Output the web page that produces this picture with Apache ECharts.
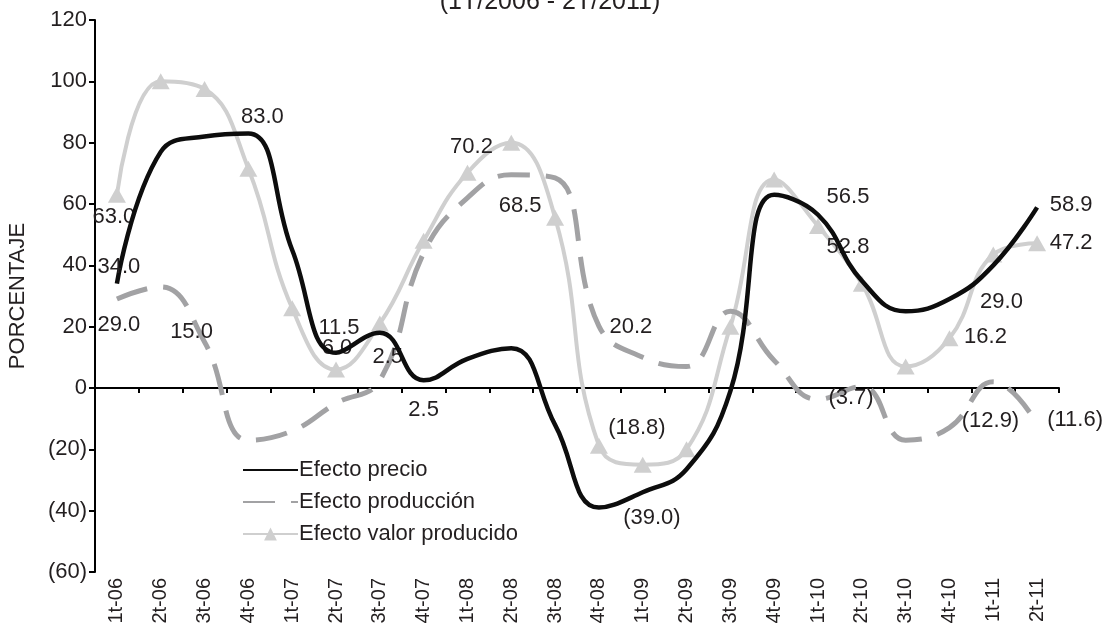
<!DOCTYPE html>
<html>
<head>
<meta charset="utf-8">
<script src="https://cdn.jsdelivr.net/npm/echarts@6/dist/echarts.min.js"></script>
<style>
html,body{margin:0;padding:0;background:#fff;}
#chart{width:1115px;height:630px;}
</style>
</head>
<body>
<div id="chart"></div>
<script>
// ---- data ----
const categories = ['1t-06','2t-06','3t-06','4t-06','1t-07','2t-07','3t-07','4t-07','1t-08','2t-08','3t-08','4t-08','1t-09','2t-09','3t-09','4t-09','1t-10','2t-10','3t-10','4t-10','1t-11','2t-11'];
const precio     = [34.0, 77, 82, 83.0, 45, 11.5, 18, 2.5, 9.5, 13, -12, -39.0, -34, -26.5, -1, 63, 56.5, 35, 25, 29.0, 40, 58.9];
const produccion = [29.0, 33, 15.0, -17, -14, -5, 2.5, 44, 62, 69.5, 68.5, 20.2, 10, 7, 25, 9, -3.7, 0.5, -17, -12.9, 2, -11.6];
const valor      = [63.0, 100, 97.5, 71.5, 26, 6.0, 21, 48, 70.2, 80, 55.5, -18.8, -25, -20, 20, 68, 52.8, 34, 7, 16.2, 43.5, 47.2];
const seriesNames = ['Efecto precio', 'Efecto producción', 'Efecto valor producido'];
const yTicks = {min: -60, max: 120, step: 20};
const titleText = '(1T/2006 - 2T/2011)';
const yName = 'PORCENTAJE';

// label placement (pixel offsets from the point), index -> [dx, dy]
const precioLabelPos = {0:[2,-17], 3:[14,-17], 5:[3,-25], 7:[0,30], 11:[53,10], 16:[30,-18], 19:[52,3], 21:[34,-2]};
const produccionLabelPos = {0:[2,26], 2:[-13,-10], 6:[8,-23], 10:[-35,28], 11:[32,1], 16:[33,-1], 19:[41,-7], 21:[38,-4]};
const valorLabelPos = {0:[-3,22], 5:[1,-22], 8:[4,-26], 11:[38,-18], 16:[30,21], 19:[36,-1], 21:[34,0]};

const TXT = '#231f20';
const FONT = 'Liberation Sans, Arial, sans-serif';
function fmt(v){ return v < 0 ? '(' + Math.abs(v).toFixed(1) + ')' : v.toFixed(1); }
function buildData(arr, pos){
  return arr.map(function(v, i){
    if (pos[i]) {
      return {value: v, label: {show: true, position: 'inside', offset: pos[i],
        formatter: fmt(v), color: TXT, fontSize: 22, fontFamily: FONT}};
    }
    return v;
  });
}

const chart = echarts.init(document.getElementById('chart'), null, {renderer: 'canvas'});
chart.setOption({
  animation: false,
  backgroundColor: '#ffffff',
  textStyle: {fontFamily: FONT, color: TXT},
  title: {
    text: titleText, left: 545, top: -15, textAlign: 'center',
    textStyle: {fontSize: 25, fontWeight: 'normal', color: TXT, fontFamily: FONT}
  },
  legend: {
    orient: 'vertical', left: 237, top: 454,
    itemWidth: 55, itemHeight: 16, itemGap: 10,
    data: seriesNames,
    textStyle: {fontSize: 22, color: TXT, fontFamily: FONT, padding: [0,0,0,-4]}
  },
  grid: {left: 95, right: 56, top: 20, bottom: 58, containLabel: false, outerBoundsMode: 'none'},
  xAxis: [
    {
      type: 'category', data: categories, boundaryGap: true, position: 'bottom',
      axisLine: {show: false, onZero: false},
      axisTick: {show: false},
      axisLabel: {rotate: 90, fontSize: 20, color: TXT, margin: 6, interval: 0, fontFamily: FONT},
      splitLine: {show: false}
    },
    {
      type: 'category', data: categories, boundaryGap: true, position: 'bottom',
      axisLine: {show: true, onZero: true, lineStyle: {color: '#000', width: 2}},
      axisTick: {show: true, interval: 0, length: 5, lineStyle: {color: '#000', width: 2}},
      axisLabel: {show: false},
      splitLine: {show: false}
    }
  ],
  yAxis: {
    type: 'value', min: yTicks.min, max: yTicks.max, interval: yTicks.step,
    name: yName, nameLocation: 'middle', nameRotate: 90, nameGap: 66,
    nameTextStyle: {fontSize: 22, color: TXT, fontFamily: FONT},
    axisLine: {show: true, lineStyle: {color: '#000', width: 2}},
    axisTick: {show: true, length: 6, lineStyle: {color: '#000', width: 2}},
    axisLabel: {fontSize: 22, color: TXT, margin: 8, fontFamily: FONT,
      formatter: function(v){ return v < 0 ? '(' + Math.abs(v) + ')' : String(v); }},
    splitLine: {show: false}
  },
  series: [
    {
      name: seriesNames[2], type: 'line', smooth: 0.45, z: 2,
      data: buildData(valor, valorLabelPos),
      symbol: 'triangle', symbolSize: [18, 16], showSymbol: true,
      lineStyle: {color: '#cfcfcf', width: 4},
      itemStyle: {color: '#cfcfcf'}
    },
    {
      name: seriesNames[1], type: 'line', smooth: 0.45, z: 3,
      data: buildData(produccion, produccionLabelPos),
      symbol: 'circle', symbolSize: 1, showSymbol: true,
      lineStyle: {color: '#a2a2a4', width: 5, type: [32, 16]},
      itemStyle: {color: 'rgba(0,0,0,0)'}
    },
    {
      name: seriesNames[0], type: 'line', smooth: 0.45, z: 4,
      data: buildData(precio, precioLabelPos),
      symbol: 'circle', symbolSize: 1, showSymbol: true,
      lineStyle: {color: '#0d0d0d', width: 4.5},
      itemStyle: {color: 'rgba(0,0,0,0)'}
    }
  ]
});
</script>
</body>
</html>
